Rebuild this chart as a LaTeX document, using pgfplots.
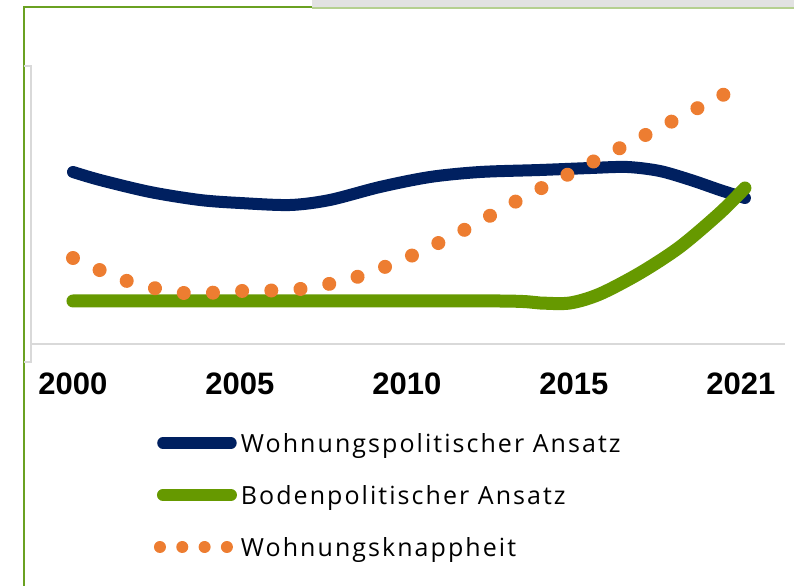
\documentclass[border=0pt]{standalone}
\usepackage{pgfplots}
\pgfplotsset{compat=1.18}
\usepackage{fontspec}
\setmainfont{Open Sans}[Ligatures=NoCommon, LetterSpace=8.2]
\newfontfamily\tickfont{Liberation Sans}
\definecolor{navy}{HTML}{002060}
\definecolor{lgreen}{HTML}{669900}
\definecolor{orng}{HTML}{ED7D31}
\definecolor{framegreen}{HTML}{6AA121}
\definecolor{axgray}{HTML}{D9D9D9}
\definecolor{bargray}{HTML}{E2E2E2}
\begin{document}
\begin{tikzpicture}
\useasboundingbox (0,0) rectangle (794bp,586bp);
\fill[bargray] (312bp,586bp) rectangle (794bp,578bp);
\draw[framegreen!50, line width=1.5bp] (312bp,578bp) -- (794bp,578bp);
\draw[framegreen, line width=2bp] (23.5bp,0) -- (23.5bp,578.5bp) -- (312bp,578.5bp);
\begin{axis}[
  at={(31bp,242bp)}, anchor=south west,
  scale only axis, width=754bp, height=278bp,
  xmin=-1.257, xmax=21.32, ymin=0, ymax=278,
  axis line style={draw=none},
  ytick=\empty,
  xtick={0,5,10,15,20},
  xticklabels={2000,2005,2010,2015,2021},
  major tick length=0pt, tick style={draw=none},
  xticklabel style={anchor=base, yshift=-50bp, inner sep=0pt,
    font=\tickfont\bfseries\fontsize{31bp}{36bp}\selectfont},
  clip=false,
  legend style={at={(0.1631,-0.3201)}, anchor=north west, draw=none, fill=none,
    inner sep=0pt, outer sep=0pt, row sep=26bp, column sep=0pt,
    font=\fontsize{25bp}{30bp}\selectfont,
    cells={anchor=base west},
    nodes={inner sep=0pt, text height=20bp, text depth=6bp}},
]
\draw[axgray, line width=1.5bp] (rel axis cs:0,0) -- (rel axis cs:1,0);
\draw[axgray, line width=1.2bp] (rel axis cs:-0.0093,1) -- (rel axis cs:0,1) -- (rel axis cs:0,-0.0647) -- (rel axis cs:-0.0093,-0.0647);

\addplot[navy, line width=12bp, line cap=round, line join=round, smooth,
  legend image code/.code={\path[draw=none,fill=none] (0,0) rectangle (84bp,20bp); \draw[navy, line width=11.5bp, line cap=round, solid] (6bp,10bp) -- (74bp,10bp);}]
coordinates {
(0,172) (0.81,164) (2.31,152) (3.80,144) (5.0,141) (6.50,139) (7.69,144) (9.19,157) (10.69,167) (12.19,172) (13.98,174) (15.5,176) (16.6,177) (17.57,173) (18.5,164) (19.37,154) (20.12,146)
};
\addlegendentry{Wohnungspolitischer Ansatz}

\addplot[lgreen, line width=13bp, line cap=round, line join=round, smooth,
  legend image code/.code={\path[draw=none,fill=none] (0,0) rectangle (84bp,20bp); \draw[lgreen, line width=12bp, line cap=round, solid] (6bp,10bp) -- (74bp,10bp);}]
coordinates {
(0,43) (6,43) (12.78,43) (13.98,41) (14.88,41) (15.78,50) (16.98,71) (18.17,97) (19.37,131) (20.12,156)
};
\addlegendentry{Bodenpolitischer Ansatz}

\addplot[orng, line width=14bp, line cap=round, dash pattern=on 0.01bp off 29.2bp, smooth,
  legend image code/.code={\path[draw=none,fill=none] (0,0) rectangle (84bp,20bp); \draw[orng, line width=12bp, line cap=round, dash pattern=on 0.01bp off 22.3bp] (3bp,10bp) -- (71bp,10bp);}]
coordinates {
(0,86) (1.62,63) (3.32,51) (5.03,53) (6.80,55) (8.50,67) (10.12,88) (11.71,114) (13.23,142) (14.79,169) (16.38,196) (17.90,222) (19.46,249) (20.1,260)
};
\addlegendentry{Wohnungsknappheit}
\end{axis}
\end{tikzpicture}
\end{document}
